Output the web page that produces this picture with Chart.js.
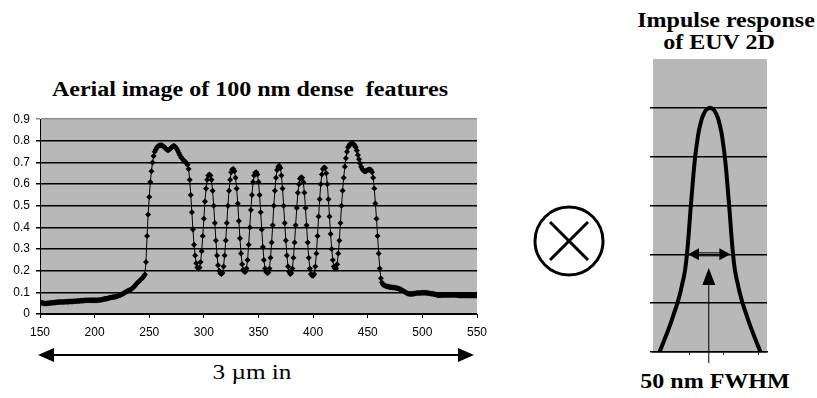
<!DOCTYPE html>
<html>
<head>
<meta charset="utf-8">
<script src="https://cdn.jsdelivr.net/npm/chart.js@4.4.1/dist/chart.umd.min.js"></script>
<style>
 body{margin:0;background:#fff;width:817px;height:398px;overflow:hidden;position:relative}
 canvas{position:absolute}
 #aerial{left:0;top:106px}
 #impulse{left:600px;top:0}
 .cap{position:absolute;width:400px;text-align:center;white-space:pre;
   font-family:"Liberation Serif","Times New Roman",serif;font-size:20px;line-height:24px;
   font-weight:bold;color:#000;transform:scaleX(1.2);transform-origin:center}
 #marks{position:absolute;left:0;top:0}
</style>
</head>
<body>

<div class="cap" style="left:50px;top:77px">Aerial image of 100 nm dense  features</div>
<div class="cap" style="left:526px;top:8px">Impulse response</div>
<div class="cap" style="left:519px;top:30px">of EUV 2D</div>
<div class="cap" style="left:515px;top:369px">50 nm FWHM</div>
<div class="cap" style="left:52px;top:360px;font-weight:normal;font-size:21px">3 µm in</div>

<canvas id="aerial" width="500" height="238"></canvas>
<canvas id="impulse" width="217" height="398"></canvas>

<svg id="marks" width="817" height="398">
 <line x1="50" y1="355" x2="462" y2="355" stroke="#000" stroke-width="2"/>
 <polygon points="38,355 54,348 54,362" fill="#000"/>
 <polygon points="474,355 458,348 458,362" fill="#000"/>
 <circle cx="569" cy="241" r="34" fill="none" stroke="#000" stroke-width="3"/>
 <line x1="550" y1="222" x2="588" y2="260" stroke="#000" stroke-width="3"/>
 <line x1="588" y1="222" x2="550" y2="260" stroke="#000" stroke-width="3"/>
</svg>

<script>
// aerial image, one sample per nm from 150 to 550
const aerialStartNm = 150;
const aerialStepNm = 1;
const aerialIntensity = [
 0.055,0.053,0.051,0.050,0.049,0.049,0.049,0.050,0.050,0.051, // 150
 0.051,0.052,0.052,0.053,0.053,0.054,0.054,0.055,0.055,0.055, // 160
 0.056,0.056,0.056,0.057,0.057,0.057,0.057,0.058,0.058,0.058, // 170
 0.058,0.059,0.059,0.059,0.060,0.060,0.060,0.061,0.061,0.061, // 180
 0.062,0.062,0.063,0.063,0.063,0.064,0.064,0.064,0.064,0.064, // 190
 0.064,0.064,0.064,0.064,0.065,0.065,0.066,0.067,0.068,0.069, // 200
 0.070,0.071,0.072,0.074,0.075,0.076,0.077,0.078,0.079,0.080, // 210
 0.081,0.083,0.085,0.087,0.089,0.091,0.094,0.097,0.100,0.103, // 220
 0.106,0.108,0.110,0.113,0.117,0.121,0.126,0.131,0.137,0.143, // 230
 0.148,0.153,0.158,0.163,0.168,0.174,0.182,0.24,0.36,0.46,    // 240
 0.54,0.61,0.66,0.70,0.73,0.75,0.76,0.77,0.775,0.778,          // 250
 0.78,0.78,0.778,0.774,0.77,0.765,0.76,0.757,0.758,0.762,      // 260
 0.768,0.773,0.776,0.776,0.772,0.765,0.755,0.745,0.735,0.725,  // 270
 0.718,0.713,0.708,0.703,0.698,0.69,0.67,0.62,0.55,0.47,       // 280
 0.39,0.32,0.27,0.235,0.215,0.21,0.215,0.24,0.29,0.36,         // 290
 0.44,0.52,0.58,0.62,0.64,0.645,0.64,0.62,0.57,0.50,           // 300
 0.42,0.34,0.27,0.225,0.20,0.188,0.185,0.19,0.22,0.27,         // 310
 0.34,0.42,0.50,0.57,0.62,0.655,0.668,0.67,0.66,0.63,          // 320
 0.58,0.51,0.43,0.35,0.28,0.23,0.205,0.195,0.195,0.21,         // 330
 0.25,0.32,0.40,0.48,0.55,0.61,0.64,0.653,0.655,0.645,         // 340
 0.61,0.55,0.47,0.39,0.31,0.25,0.21,0.195,0.19,0.192,          // 350
 0.21,0.26,0.33,0.41,0.50,0.57,0.63,0.665,0.68,0.685,          // 360
 0.675,0.64,0.58,0.50,0.42,0.34,0.27,0.22,0.195,0.185,         // 370
 0.19,0.21,0.26,0.33,0.41,0.49,0.56,0.60,0.625,0.632,          // 380
 0.63,0.61,0.56,0.49,0.41,0.33,0.26,0.21,0.185,0.178,          // 390
 0.177,0.185,0.22,0.28,0.36,0.45,0.53,0.60,0.645,0.67,         // 400
 0.677,0.675,0.65,0.60,0.53,0.45,0.37,0.30,0.25,0.22,          // 410
 0.21,0.21,0.23,0.28,0.34,0.42,0.50,0.57,0.63,0.68,            // 420
 0.72,0.75,0.77,0.78,0.785,0.787,0.787,0.785,0.78,0.77,        // 430
 0.755,0.735,0.715,0.695,0.68,0.67,0.663,0.66,0.66,0.662,      // 440
 0.665,0.668,0.668,0.665,0.655,0.63,0.58,0.51,0.44,0.36,       // 450
 0.28,0.21,0.165,0.145,0.135,0.132,0.130,0.128,0.127,0.126,    // 460
 0.125,0.124,0.124,0.123,0.122,0.121,0.120,0.119,0.118,0.116,  // 470
 0.114,0.111,0.108,0.105,0.102,0.099,0.096,0.094,0.093,0.092,  // 480
 0.092,0.093,0.094,0.095,0.096,0.097,0.097,0.097,0.097,0.098,  // 490
 0.098,0.098,0.098,0.098,0.097,0.097,0.096,0.095,0.094,0.093,  // 500
 0.092,0.091,0.090,0.089,0.088,0.087,0.087,0.087,0.087,0.088,  // 510
 0.088,0.088,0.088,0.088,0.088,0.088,0.088,0.088,0.088,0.088,  // 520
 0.088,0.088,0.087,0.087,0.086,0.086,0.086,0.085,0.085,0.085,  // 530
 0.085,0.085,0.085,0.085,0.085,0.085,0.085,0.086,0.086,0.086,  // 540
 0.086                                                         // 550
];

// impulse response of EUV 2D (nm from centre, arbitrary units)
const impulseNm  = [-62,-60,-56,-52,-48,-44,-40,-38,-36,-34,-32,-30,-28,-26,-24,-22,-20,-18,-16,-14,-12,-10,-8,-6,-4,-2,0,
                    2,4,6,8,10,12,14,16,18,20,22,24,26,28,30,32,34,36,38,40,44,48,52,56,60,62];
const impulseAmp = [0,0.08,0.25,0.42,0.6,0.8,1.0,1.12,1.25,1.4,1.55,1.75,2.05,2.45,2.9,3.3,3.7,4.03,4.28,4.5,4.65,4.78,4.86,4.93,4.97,4.99,5.0,
                    4.99,4.97,4.93,4.86,4.78,4.65,4.5,4.28,4.03,3.7,3.3,2.9,2.45,2.05,1.75,1.55,1.4,1.25,1.12,1.0,0.8,0.6,0.42,0.25,0.08,0];
const impulseTickNm = [-25, 17, 59];

// FWHM arrows on the impulse plot
const fwhmFromNm = -27, fwhmToNm = 25, fwhmLevel = 2;
const pointerNm = -1.5, pointerTip = 1.72;

const plotGray = '#b8b8b8';
const tickFont = { family: 'Liberation Sans', size: 12 };

const plotFill = {
  id: 'plotFill',
  beforeDraw(c) {
    const a = c.chartArea, ctx = c.ctx;
    ctx.save();
    ctx.fillStyle = plotGray;
    ctx.fillRect(a.left, a.top, a.right - a.left, a.bottom - a.top);
    ctx.restore();
  }
};

function tri(ctx, pts) {
  ctx.beginPath();
  ctx.moveTo(pts[0], pts[1]);
  ctx.lineTo(pts[2], pts[3]);
  ctx.lineTo(pts[4], pts[5]);
  ctx.closePath();
  ctx.fill();
}

const fwhmMarks = {
  id: 'fwhmMarks',
  afterDraw(c) {
    const ctx = c.ctx, xs = c.scales.x, ys = c.scales.y;
    const y = ys.getPixelForValue(fwhmLevel);
    const x1 = xs.getPixelForValue(fwhmFromNm), x2 = xs.getPixelForValue(fwhmToNm);
    ctx.save();
    ctx.fillStyle = '#000';
    ctx.strokeStyle = '#000';
    ctx.lineWidth = 1;
    ctx.beginPath();
    ctx.moveTo(x1 + 9, y - 1.5); ctx.lineTo(x2 - 9, y - 1.5);
    ctx.moveTo(x1 + 9, y + 1.5); ctx.lineTo(x2 - 9, y + 1.5);
    ctx.stroke();
    tri(ctx, [x1, y, x1 + 11, y - 6, x1 + 11, y + 6]);
    tri(ctx, [x2, y, x2 - 11, y - 6, x2 - 11, y + 6]);

    const vx = xs.getPixelForValue(pointerNm), vy = ys.getPixelForValue(pointerTip);
    tri(ctx, [vx, vy, vx - 6.5, vy + 17, vx + 6.5, vy + 17]);
    ctx.beginPath();
    ctx.moveTo(vx, vy + 16);
    ctx.lineTo(vx, ys.bottom + 11);
    ctx.stroke();
    ctx.restore();
  }
};

new Chart(document.getElementById('aerial'), {
  type: 'line',
  data: {
    datasets: [{
      data: aerialIntensity.map((v, i) => ({ x: aerialStartNm + i * aerialStepNm, y: v })),
      borderColor: '#000',
      borderWidth: 1,
      pointStyle: 'rectRot',
      pointRadius: 3,
      pointBackgroundColor: '#000',
      pointBorderWidth: 0,
      tension: 0
    }]
  },
  options: {
    responsive: false,
    animation: false,
    layout: { padding: { top: 10, right: 23, left: 0, bottom: 0 } },
    plugins: { legend: { display: false }, tooltip: { enabled: false } },
    scales: {
      x: {
        type: 'linear', min: 150, max: 550,
        ticks: { stepSize: 50, color: '#000', font: tickFont, padding: 7, maxRotation: 0 },
        grid: { drawOnChartArea: false, color: '#000', tickLength: 4 },
        border: { color: '#000', width: 1 },
        afterFit(s) { s.height = 30; }
      },
      y: {
        min: 0, max: 0.9,
        ticks: { stepSize: 0.1, color: '#000', font: tickFont, padding: 6 },
        grid: { color: c => c.tick && c.tick.value >= 0.85 ? '#8a8a8a' : '#000', lineWidth: 1.5, tickLength: 4 },
        border: { color: '#000', width: 1 },
        afterFit(s) { s.width = 40; }
      }
    }
  },
  plugins: [plotFill]
});

new Chart(document.getElementById('impulse'), {
  type: 'line',
  data: {
    datasets: [{
      data: impulseNm.map((x, i) => ({ x: x, y: impulseAmp[i] })),
      borderColor: '#000',
      borderWidth: 4,
      pointRadius: 0,
      cubicInterpolationMode: 'monotone'
    }]
  },
  options: {
    responsive: false,
    animation: false,
    layout: { padding: { top: 59, right: 50, left: 0, bottom: 0 } },
    plugins: { legend: { display: false }, tooltip: { enabled: false } },
    scales: {
      x: {
        type: 'linear', min: -70, max: 70,
        afterBuildTicks(s) { s.ticks = impulseTickNm.map(v => ({ value: v })); },
        ticks: { display: false },
        grid: { drawOnChartArea: false, color: '#333', tickLength: 3 },
        border: { color: '#000', width: 1.5 },
        afterFit(s) { s.height = 46; }
      },
      y: {
        min: 0, max: 6,
        ticks: { display: false, stepSize: 1 },
        grid: { color: c => c.tick && c.tick.value >= 6 ? 'rgba(0,0,0,0)' : '#000', lineWidth: 1.5, tickLength: 3 },
        border: { display: false },
        afterFit(s) { s.width = 53; }
      }
    }
  },
  plugins: [plotFill, fwhmMarks]
});
</script>
</body>
</html>
